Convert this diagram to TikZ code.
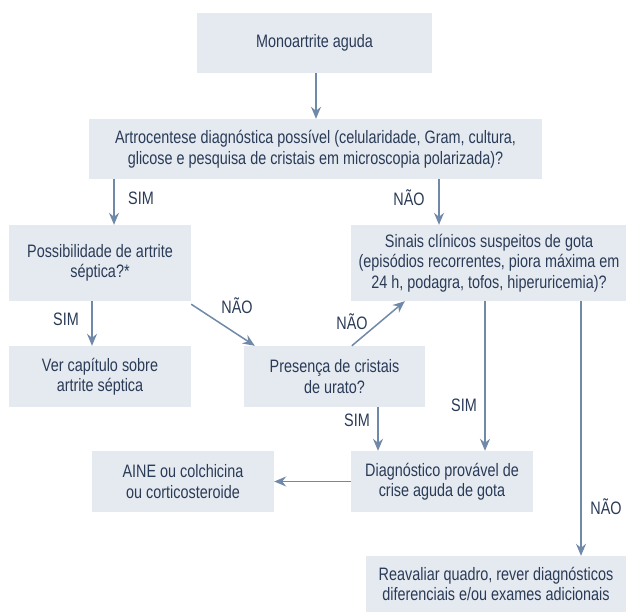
\documentclass[tikz,border=0pt]{standalone}
\usepackage{fontspec}
\setmainfont{Liberation Sans}[FakeStretch=0.8]
\usetikzlibrary{arrows.meta}
\definecolor{boxfill}{HTML}{E5EAF0}
\definecolor{ink}{HTML}{2A3B57}
\definecolor{flow}{HTML}{7189A8}
\begin{document}
\begin{tikzpicture}[x=1pt,y=-1pt,
  every node/.style={text=ink,font=\fontsize{18}{20.5}\selectfont},
  card/.style={fill=boxfill,align=center,inner sep=0pt,anchor=center},
  arr/.style={draw=flow,line width=1.5pt,-{Stealth[length=12pt,width=10pt,inset=4pt]}},
  tag/.style={inner sep=0pt}]
\useasboundingbox (0,0) rectangle (626,612);
\fill[white] (0,0) rectangle (626,612);

% boxes
\node[card,minimum width=235pt,minimum height=60pt] (mono) at (314.5,43) {Monoartrite aguda};
\node[card,minimum width=453pt,minimum height=60pt] (artro) at (315.5,149)
  {Artrocentese diagnóstica possível (celularidade, Gram, cultura,\\glicose e pesquisa de cristais em microscopia polarizada)?};
\node[card,minimum width=182pt,minimum height=76pt] (poss) at (100,263) {Possibilidade de artrite\\séptica?*};
\node[card,minimum width=276pt,minimum height=76pt] (sinais) at (489,263)
  {Sinais clínicos suspeitos de gota\\(episódios recorrentes, piora máxima em\\24 h, podagra, tofos, hiperuricemia)?};
\node[card,minimum width=182pt,minimum height=61pt] (ver) at (100,376.5) {Ver capítulo sobre\\artrite séptica};
\node[card,minimum width=181pt,minimum height=61pt] (pres) at (334.5,376.5) {Presença de cristais\\de urato?};
\node[card,minimum width=182pt,minimum height=61pt] (diag) at (442,481.5) {Diagnóstico provável de\\crise aguda de gota};
\node[card,minimum width=182pt,minimum height=61pt] (aine) at (183,481.5) {AINE ou colchicina\\ou corticosteroide};
\node[card,minimum width=260pt,minimum height=56pt] (reav) at (496,584)
  {Reavaliar quadro, rever diagnósticos\\diferenciais e/ou exames adicionais};

% vertical tracks of the connectors
\coordinate (xa) at (316,0);
\coordinate (xsim) at (114,0);
\coordinate (xnao) at (439,0);
\coordinate (xsep) at (92,0);
\coordinate (xpres) at (378,0);
\coordinate (xgota) at (485,0);
\coordinate (xout) at (581,0);

% connectors
\draw[arr] (mono.south -| xa) -- (artro.north -| xa);
\draw[arr] (artro.south -| xsim) -- (poss.north -| xsim);
\draw[arr] (artro.south -| xnao) -- (sinais.north -| xnao);
\draw[arr] (poss.south -| xsep) -- (ver.north -| xsep);
\draw[arr] ([yshift=-3pt]poss.south east) -- ([xshift=11pt]pres.north west);
\draw[arr] ([xshift=108pt]pres.north west) -- ([xshift=54pt]sinais.south west);
\draw[arr] (pres.south -| xpres) -- (diag.north -| xpres);
\draw[arr] (sinais.south -| xgota) -- (diag.north -| xgota);
\draw[arr] (diag.west) -- (aine.east);
\draw[arr] (sinais.south -| xout) -- (reav.north -| xout);

% branch labels
\node[tag] (l1) at (141,198) {SIM};
\node[tag] (l2) at (409,198) {NÃO};
\node[tag] (l3) at (66,319) {SIM};
\node[tag] (l4) at (237,306) {NÃO};
\node[tag] (l5) at (352,322) {NÃO};
\node[tag] (l6) at (464,405) {SIM};
\node[tag] (l7) at (357,420) {SIM};
\node[tag] (l8) at (606,507) {NÃO};
\end{tikzpicture}
\end{document}
